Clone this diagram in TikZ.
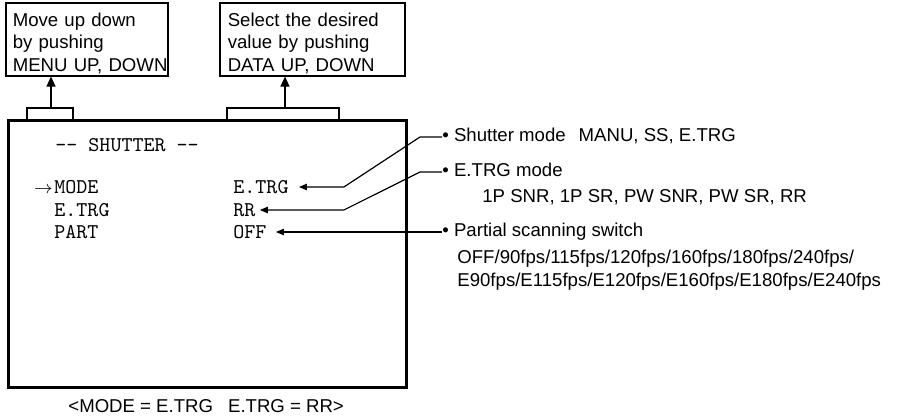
\documentclass[tikz,border=0pt]{standalone}
\usepackage{fontspec}
\setmainfont{Liberation Sans}
\usetikzlibrary{arrows.meta,positioning}

\begin{document}
\begin{tikzpicture}[x=0.5pt, y=-0.5pt,
  every node/.style={font=\fontsize{9.3pt}{11.2pt}\selectfont, inner sep=0pt},
  keybox/.style={draw, line width=0.8pt, anchor=north west, align=left},
  menu/.style={font=\ttfamily\fontsize{10.5pt}{12pt}\selectfont, anchor=west},
  desc/.style={anchor=west, text height=6.7pt, text depth=1.9pt},
  sub/.style={anchor=west, align=left, font=\fontsize{9.3pt}{11.5pt}\selectfont},
  lead/.style={line width=0.6pt, -{Triangle[length=4pt, width=3.2pt]}},
  up/.style={line width=0.65pt, -{Triangle[length=5pt, width=4.5pt]}},
  brace/.style={line width=0.65pt}
]
  \useasboundingbox (0,0) rectangle (907,417);

  % Cuadros de teclas
  \node[keybox, text width=74pt, inner xsep=3.5pt] (menukeys) at (5,2)
    {\rule{0pt}{11.8pt}Move up down\\by pushing\\\mbox{MENU UP, DOWN}\rule[-2.3pt]{0pt}{2.3pt}};
  \node[keybox, text width=84.5pt, inner xsep=4pt] (datakeys) at (219,2)
    {\rule{0pt}{11.8pt}Select the desired\\value by pushing\\DATA UP, DOWN\rule[-2.3pt]{0pt}{2.3pt}};

  % Pantalla
  \node[draw, line width=1.3pt, minimum width=199pt, minimum height=133.5pt,
    anchor=north west] (screen) at (7,119) {};
  \node[menu] (title) at (55,145) {-{}- SHUTTER -{}-};
  \node[menu] (mode) at (54,187) {MODE};
  \node[menu] (etrg) at (54,210) {E.TRG};
  \node[menu] (part) at (54,232) {PART};
  \node[anchor=base east] (cursor) at ([xshift=-0.5pt]mode.base west) {$\rightarrow$};
  \node[menu] (vmode) at (233,187) {E.TRG};
  \node[menu] (vetrg) at (233,210) {RR};
  \node[menu] (vpart) at (233,232) {OFF};

  % Corchetes y flechas
  \coordinate (b1l) at (27,108);
  \coordinate (b1r) at (73,108);
  \coordinate (b1m) at (51,108);
  \coordinate (b2l) at (227,108);
  \coordinate (b2r) at (339,108);
  \coordinate (b2m) at (285,108);
  \draw[brace] (b1l |- screen.north) -- (b1l) -- (b1r) -- (b1r |- screen.north);
  \draw[brace] (b2l |- screen.north) -- (b2l) -- (b2r) -- (b2r |- screen.north);
  \draw[up] (b1m) -- (b1m |- menukeys.south);
  \draw[up] (b2m) -- (b2m |- datakeys.south);

  % Descripciones
  \node[desc] (dmode) at (442,137) {• Shutter mode\hspace{6.5pt}MANU, SS, E.TRG};
  \node[desc] (detrg) at (442,172) {• E.TRG mode};
  \node[desc] (detrgv) at (482,198) {1P SNR, 1P SR, PW SNR, PW SR, RR};
  \node[desc] (dpart) at (442,232) {• Partial scanning switch};
  \node[sub] (dpartv) at (457,270)
    {OFF/90fps/115fps/120fps/160fps/180fps/240fps/\\E90fps/E115fps/E120fps/E160fps/E180fps/E240fps};

  % Lineas de referencia
  \draw[lead] (dmode.west) -- ++(-22,0) -- ([shift={(55,0)}]vmode.east) -- ([shift={(10,0)}]vmode.east);
  \draw[lead] (detrg.west) -- ++(-22,0) -- ([shift={(88,0)}]vetrg.east) -- ([shift={(4,0)}]vetrg.east);
  \draw[lead] (dpart.west) -- ([shift={(9,0)}]vpart.east);

  % Leyenda
  \node[anchor=west] (caption) at (68,406) {<MODE = E.TRG\hspace{7.5pt}E.TRG = RR>};
\end{tikzpicture}
\end{document}
